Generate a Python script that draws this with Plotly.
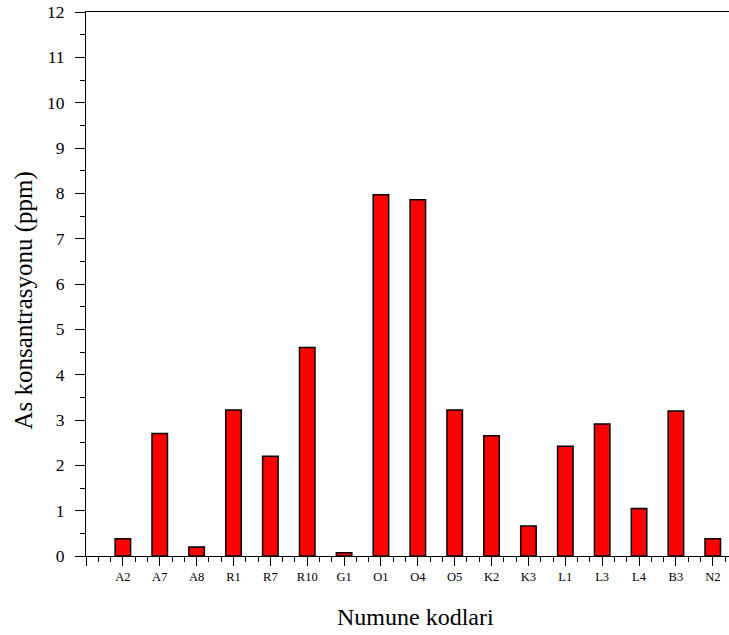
import plotly.graph_objects as go

categories = ["A2", "A7", "A8", "R1", "R7", "R10", "G1", "O1", "O4", "O5",
              "K2", "K3", "L1", "L3", "L4", "B3", "N2"]
values = [0.38, 2.70, 0.20, 3.22, 2.20, 4.60, 0.07, 7.97, 7.86, 3.22,
          2.65, 0.66, 2.42, 2.91, 1.05, 3.20, 0.38]
positions = list(range(1, len(categories) + 1))
y_ticks = list(range(0, 13))
x_title = "Numune kodlari"
y_title = "As konsantrasyonu (ppm)"

font_family = "Liberation Serif, Times New Roman, serif"

fig = go.Figure(go.Bar(
    x=positions, y=values, width=0.42,
    marker=dict(color="#ff0000", line=dict(color="#000000", width=1.5)),
))

fig.update_layout(
    width=729, height=635,
    margin=dict(l=86, r=0, t=12, b=79),
    plot_bgcolor="white", paper_bgcolor="white",
    showlegend=False,
    font=dict(family=font_family, color="black"),
    annotations=[
        dict(text=x_title, xref="paper", yref="paper", x=0.513, y=-0.113,
             xanchor="center", yanchor="middle", showarrow=False,
             font=dict(size=24, family=font_family, color="black")),
        dict(text=y_title, xref="paper", yref="paper", x=-0.097, y=0.469,
             xanchor="center", yanchor="middle", showarrow=False, textangle=-90,
             font=dict(size=25, family=font_family, color="black")),
    ],
)

fig.update_xaxes(
    range=[0, 17.44],
    automargin=False,
    tickmode="array",
    tickvals=[0] + positions,
    ticktext=[""] + categories,
    ticks="outside", ticklen=9, tickwidth=1, tickcolor="black",
    minor=dict(dtick=1/3, tick0=0, ticks="outside", ticklen=5, tickcolor="black", tickwidth=1),
    showline=True, linecolor="black", linewidth=1, mirror=True,
    showgrid=False, zeroline=False,
    tickfont=dict(size=12.5, family=font_family),
)

fig.update_yaxes(
    range=[0, 12],
    automargin=False,
    tickmode="array", tickvals=y_ticks, ticktext=[str(v) for v in y_ticks],
    ticks="outside", ticklen=10, tickwidth=1, tickcolor="black",
    minor=dict(dtick=0.5, tick0=0, ticks="outside", ticklen=5, tickcolor="black", tickwidth=1),
    showline=True, linecolor="black", linewidth=1,
    showgrid=False, zeroline=False,
    ticklabelstandoff=7,
    tickfont=dict(size=17.5, family=font_family),
)

# remove the page's default 8px body margin so the figure sits at the window's corner
fig.write_html(
    "out.html",
    config={"displayModeBar": False},
    post_script="document.body.style.margin='0';document.body.style.overflow='hidden';",
)
